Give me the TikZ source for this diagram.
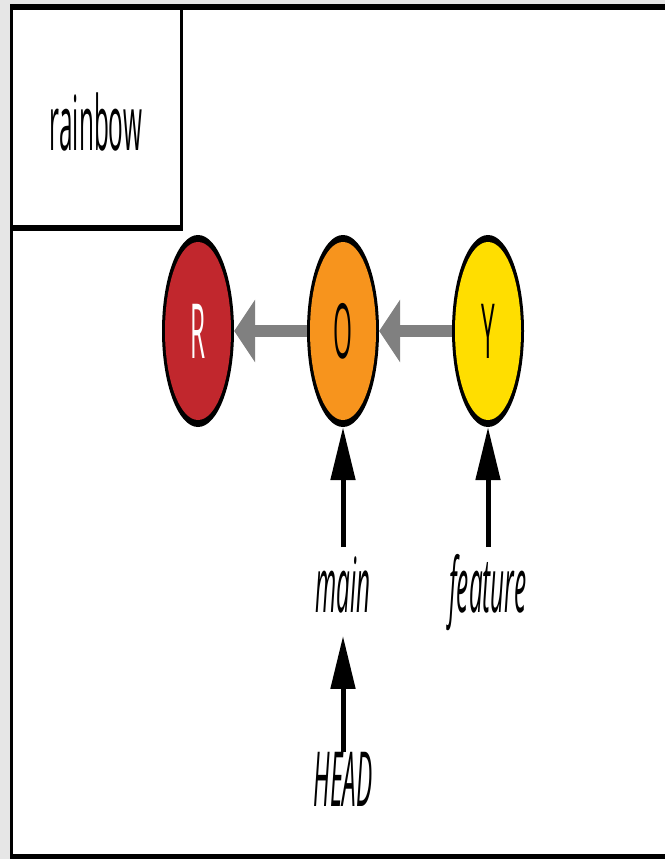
\documentclass[tikz,border=0pt]{standalone}
\usepackage{fontspec}
\setmainfont{Open Sans}
\usetikzlibrary{arrows.meta,shapes.geometric}
\definecolor{cR}{HTML}{C1272D}
\definecolor{cO}{HTML}{F7941D}
\definecolor{cY}{HTML}{FFDE00}
\definecolor{cbg}{HTML}{E6E6E6}
\definecolor{cgr}{HTML}{808080}
\newcommand\sqz[1]{\scalebox{0.32}[1]{#1}}
\tikzset{
  outerell/.style={ellipse, fill=black, minimum width=72pt, minimum height=192pt, inner sep=0pt},
  innerell/.style={ellipse, minimum width=66pt, minimum height=178pt, inner sep=0pt, font=\fontsize{76}{80}\selectfont},
  lbl/.style={inner sep=0pt, anchor=base, font=\fontsize{76}{80}\selectfont\itshape},
  parentarrow/.style={draw=cgr, line width=12pt, -{Triangle[length=21pt,width=62pt]}},
  refarrow/.style={draw=black, line width=5pt, -{Triangle[length=53pt,width=24pt]}},
}
\begin{document}
\begin{tikzpicture}[x=1pt,y=-1pt]
\useasboundingbox (0,0) rectangle (665,859);
\fill[cbg] (0,0) rectangle (665,859);
\fill[white] (10,4) rectangle (665,859);
% frame
\fill[black] (10,4) rectangle (665,10);
\fill[black] (10,4) rectangle (13,859);
\fill[black] (10,854) rectangle (665,859);
% label box
\fill[black] (180,4) rectangle (183,230);
\fill[black] (10,225) rectangle (183,231);
\node[inner sep=0pt, anchor=base, font=\fontsize{76}{80}\selectfont] (title) at (96,150) {\sqz{rainbow}};
% commits
\node[outerell] (R) at (198,331) {};
\node[innerell, fill=cR, text=white] (Ri) at (198,331) {\sqz{R}};
\node[outerell] (O) at (343,331) {};
\node[innerell, fill=cO] (Oi) at (343,331) {\sqz{O}};
\node[outerell] (Y) at (488,331) {};
\node[innerell, fill=cY] (Yi) at (488,331) {\sqz{Y}};
\draw[parentarrow] (O.west) -- (R.east);
\draw[parentarrow] (Y.west) -- (O.east);
% refs
\node[lbl] (main) at (343,612) {\sqz{main}};
\node[lbl] (feature) at (488,612) {\sqz{feature}};
\node[lbl] (head) at (343,806) {\sqz{HEAD}};
\coordinate (mainTop) at (343,547);
\coordinate (featTop) at (488,547);
\coordinate (headTop) at (343,752);
\draw[refarrow] (mainTop) -- (O.south);
\draw[refarrow] (featTop) -- (Y.south);
\draw[refarrow, shorten >=23pt] (headTop) -- (main.south);
\end{tikzpicture}
\end{document}
